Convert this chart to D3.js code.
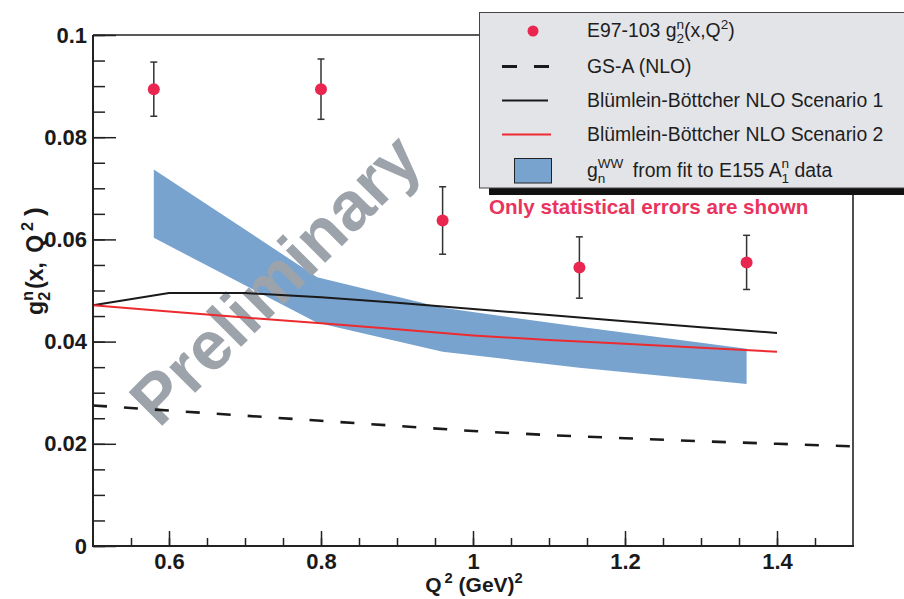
<!DOCTYPE html>
<html>
<head>
<meta charset="utf-8">
<script src="https://cdn.jsdelivr.net/npm/d3@7"></script>
<style>
  body { margin: 0; background: #fff; }
  svg { display: block; font-family: "Liberation Sans", Arial, Helvetica, sans-serif; }
</style>
</head>
<body>
<div id="g2n-vis"></div>
<script>
// E97-103 data points
const q2Data = [0.58, 0.80, 0.96, 1.14, 1.36];
const g2nData = [0.0894, 0.0894, 0.0637, 0.0545, 0.0555];
const g2nErr = [0.0053, 0.0059, 0.0066, 0.0060, 0.0053];

// GS-A (NLO) curve
const gsaQ2 = [0.5, 0.6, 0.7, 0.8, 0.9, 1.0, 1.1, 1.2, 1.3, 1.4, 1.5];
const gsaVals = [0.0275, 0.0265, 0.0255, 0.0245, 0.0235, 0.0225, 0.0217, 0.0211, 0.0205, 0.0200, 0.0195];

// Bluemlein-Boettcher scenarios
const bbQ2 = [0.5, 0.6, 0.7, 0.8, 0.9, 1.0, 1.1, 1.2, 1.3, 1.4];
const bb1Vals = [0.0471, 0.0495, 0.0495, 0.0487, 0.0476, 0.0464, 0.0452, 0.0440, 0.0428, 0.0417];
const bb2Vals = [0.0471, 0.0459, 0.0447, 0.0436, 0.0424, 0.0412, 0.0403, 0.0396, 0.0388, 0.0380];

// g2 WW band from E155 fit
const bandQ2 = [0.58, 0.795, 0.96, 1.14, 1.36];
const bandHi = [0.0737, 0.0526, 0.0466, 0.0429, 0.0386];
const bandLo = [0.0603, 0.0437, 0.0380, 0.0349, 0.0317];

const yTicks = [0, 0.02, 0.04, 0.06, 0.08, 0.1];
const xTicks = [0.6, 0.8, 1.0, 1.2, 1.4];

var width = 904, height = 599;
var margin = {top: 35, right: 51, bottom: 53, left: 93};

const svg = d3.select("#g2n-vis").append("svg")
    .attr("width", width)
    .attr("height", height);

var x = d3.scaleLinear().domain([0.5, 1.5]).range([margin.left, width - margin.right]);
var y = d3.scaleLinear().domain([0, 0.1]).range([height - margin.bottom, margin.top]);

// draws text with stacked sub/superscripts, ROOT style
function richText(sel, parts, size) {
    const text = sel.append("text").style("font-size", size + "px");
    let cur = 0, lastW = 0;
    parts.forEach(p => {
        const off = p.s === "sub" ? 0.32 * size : p.s === "sup" ? -0.42 * size : 0;
        const ts = text.append("tspan").text(p.t)
            .attr("dy", off - cur)
            .style("font-size", p.s ? (0.7 * size) + "px" : (p.big ? (p.big * size) + "px" : null));
        if (p.stack) ts.attr("dx", -lastW);
        if (p.dx) ts.attr("dx", p.dx);
        cur = off;
        lastW = ts.node().getComputedTextLength();
    });
    return text;
}

// band
var area = d3.area()
    .x((d, i) => x(bandQ2[i]))
    .y0((d, i) => y(bandLo[i]))
    .y1((d, i) => y(bandHi[i]));
svg.append("path")
    .attr("d", area(bandQ2))
    .attr("fill", "#78a3cf");

// watermark
svg.append("text")
    .attr("transform", "translate(292,296) rotate(-45)")
    .attr("text-anchor", "middle")
    .style("font-size", "69px")
    .style("font-weight", "bold")
    .style("fill", "#9da3aa")
    .text("Preliminary");

// curves
var line = d3.line().x(d => x(d[0])).y(d => y(d[1]));
svg.append("path")
    .attr("d", line(gsaQ2.map((q, i) => [q, gsaVals[i]])))
    .attr("fill", "none").attr("stroke", "#1a1a1a")
    .attr("stroke-width", 2.6).attr("stroke-dasharray", "14,17");
svg.append("path")
    .attr("d", line(bbQ2.map((q, i) => [q, bb1Vals[i]])))
    .attr("fill", "none").attr("stroke", "#1a1a1a").attr("stroke-width", 2);
svg.append("path")
    .attr("d", line(bbQ2.map((q, i) => [q, bb2Vals[i]])))
    .attr("fill", "none").attr("stroke", "#ec2a2f").attr("stroke-width", 2);

// error bars + points
var pts = svg.append("g");
q2Data.forEach((q, i) => {
    var cx = x(q);
    pts.append("line")
        .attr("x1", cx).attr("x2", cx)
        .attr("y1", y(g2nData[i] - g2nErr[i])).attr("y2", y(g2nData[i] + g2nErr[i]))
        .attr("stroke", "#333").attr("stroke-width", 1.5);
    [g2nData[i] - g2nErr[i], g2nData[i] + g2nErr[i]].forEach(v => {
        pts.append("line")
            .attr("x1", cx - 3.5).attr("x2", cx + 3.5)
            .attr("y1", y(v)).attr("y2", y(v))
            .attr("stroke", "#333").attr("stroke-width", 1.5);
    });
    pts.append("circle")
        .attr("cx", cx).attr("cy", y(g2nData[i])).attr("r", 6)
        .attr("fill", "#e8264f");
});

// axes (ticks point inward)
var yAxis = svg.append("g")
    .attr("transform", "translate(" + margin.left + ",0)")
    .call(d3.axisLeft(y).tickValues(yTicks).tickSize(-23).tickPadding(6)
        .tickFormat(d3.format("~g")));
yAxis.select(".domain").remove();
yAxis.selectAll("line").attr("stroke", "#222").attr("stroke-width", 1.5);
yAxis.selectAll("text")
    .style("font-size", "22px").style("font-weight", "bold").attr("fill", "#1a1a1a");

var yMinor = svg.append("g")
    .attr("transform", "translate(" + margin.left + ",0)")
    .call(d3.axisLeft(y).tickValues(d3.range(0, 0.1001, 0.005)).tickSize(-12).tickFormat(""));
yMinor.select(".domain").remove();
yMinor.selectAll("line").attr("stroke", "#222").attr("stroke-width", 1.5);

var xAxis = svg.append("g")
    .attr("transform", "translate(0," + (height - margin.bottom) + ")")
    .call(d3.axisBottom(x).tickValues(xTicks).tickSize(-15).tickPadding(7)
        .tickFormat(d3.format("~g")));
xAxis.select(".domain").remove();
xAxis.selectAll("line").attr("stroke", "#222").attr("stroke-width", 1.5);
xAxis.selectAll("text")
    .style("font-size", "22px").style("font-weight", "bold").attr("fill", "#1a1a1a");

var xMinor = svg.append("g")
    .attr("transform", "translate(0," + (height - margin.bottom) + ")")
    .call(d3.axisBottom(x).tickValues(d3.range(0.55, 1.5, 0.05)).tickSize(-8).tickFormat(""));
xMinor.select(".domain").remove();
xMinor.selectAll("line").attr("stroke", "#222").attr("stroke-width", 1.5);

// frame
var x0 = margin.left, x1 = width - margin.right, y0 = height - margin.bottom, y1 = margin.top;
svg.append("line").attr("x1", x0).attr("x2", x1).attr("y1", y1).attr("y2", y1)
    .attr("stroke", "#222").attr("stroke-width", 1.4);
svg.append("line").attr("x1", x1).attr("x2", x1).attr("y1", y1).attr("y2", y0)
    .attr("stroke", "#222").attr("stroke-width", 1.6);
svg.append("line").attr("x1", x0).attr("x2", x0).attr("y1", y1).attr("y2", y0 + 1)
    .attr("stroke", "#222").attr("stroke-width", 2);
svg.append("line").attr("x1", x0 - 1).attr("x2", x1 + 1).attr("y1", y0).attr("y2", y0)
    .attr("stroke", "#222").attr("stroke-width", 2);

// axis titles
richText(svg, [{t: "Q"}, {t: "2", s: "sup", dx: 3}, {t: " (GeV)"}, {t: "2", s: "sup"}], 21)
    .attr("x", 474).attr("y", 592).attr("text-anchor", "middle")
    .style("font-weight", "bold").attr("fill", "#1a1a1a");

richText(svg, [{t: "g"}, {t: "2", s: "sub"}, {t: "n", s: "sup", stack: true}, {t: "(x,", dx: 2},
        {t: " Q", dx: 3}, {t: "2", s: "sup", dx: 4}, {t: ")", dx: 6, big: 1.15}], 23)
    .attr("transform", "translate(43,261) rotate(-90)")
    .attr("text-anchor", "middle")
    .style("font-weight", "bold").attr("fill", "#1a1a1a");

// note
svg.append("text")
    .attr("x", 489).attr("y", 214)
    .style("font-size", "20.6px").style("font-weight", "bold")
    .attr("fill", "#e9345d")
    .text("Only statistical errors are shown");

// legend
var leg = svg.append("g");
leg.append("rect").attr("x", 489).attr("y", 188).attr("width", 420).attr("height", 7).attr("fill", "#111");
leg.append("rect").attr("x", 479.5).attr("y", 12.5).attr("width", 430).attr("height", 175.5)
    .attr("fill", "#e3e4e8").attr("stroke", "#444").attr("stroke-width", 1);

var rowY = [31, 66.5, 100.5, 134.5, 170.5];
var legFont = 19.4, textX = 587;
leg.append("circle").attr("cx", 533).attr("cy", rowY[0]).attr("r", 5.5).attr("fill", "#e8264f");
richText(leg, [{t: "E97-103 g"}, {t: "2", s: "sub"}, {t: "n", s: "sup", stack: true}, {t: "(x,Q"}, {t: "2", s: "sup"}, {t: ")"}], legFont)
    .attr("x", textX).attr("y", rowY[0] + 6).attr("fill", "#1e1e1e");

leg.append("line").attr("x1", 502).attr("x2", 550).attr("y1", rowY[1]).attr("y2", rowY[1])
    .attr("stroke", "#1a1a1a").attr("stroke-width", 3).attr("stroke-dasharray", "15,17");
leg.append("text").attr("x", textX).attr("y", rowY[1] + 6).style("font-size", legFont + "px")
    .attr("fill", "#1e1e1e").text("GS-A (NLO)");

leg.append("line").attr("x1", 502).attr("x2", 548).attr("y1", rowY[2]).attr("y2", rowY[2])
    .attr("stroke", "#1a1a1a").attr("stroke-width", 2);
leg.append("text").attr("x", textX).attr("y", rowY[2] + 6).style("font-size", legFont + "px")
    .attr("fill", "#1e1e1e").text("Blümlein-Böttcher NLO Scenario 1");

leg.append("line").attr("x1", 502).attr("x2", 551).attr("y1", rowY[3]).attr("y2", rowY[3])
    .attr("stroke", "#ec2a2f").attr("stroke-width", 2);
leg.append("text").attr("x", textX).attr("y", rowY[3] + 6).style("font-size", legFont + "px")
    .attr("fill", "#1e1e1e").text("Blümlein-Böttcher NLO Scenario 2");

leg.append("rect").attr("x", 514.5).attr("y", 158.5).attr("width", 37).attr("height", 24.5)
    .attr("fill", "#78a3cf").attr("stroke", "#222").attr("stroke-width", 1);
richText(leg, [{t: "g"}, {t: "n", s: "sub"}, {t: "WW", s: "sup", stack: true}, {t: " from fit to E155 A", dx: 4}, {t: "1", s: "sub"}, {t: "n", s: "sup", stack: true}, {t: " data"}], legFont)
    .attr("x", textX).attr("y", rowY[4] + 6).attr("fill", "#1e1e1e");
</script>
</body>
</html>
